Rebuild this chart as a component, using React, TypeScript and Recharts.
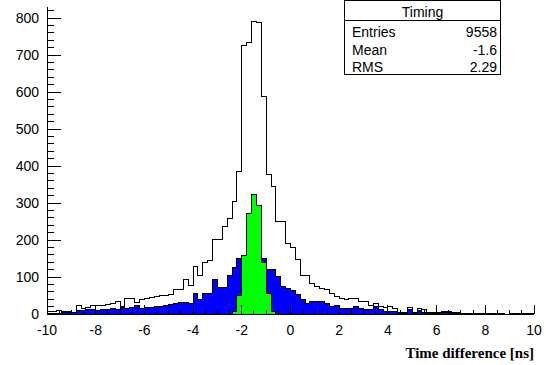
import { Area, ComposedChart, XAxis, YAxis } from 'recharts';

// 100 bins of 0.2 ns from -10 to 10
const BIN_LOW = -10;
const BIN_WIDTH = 0.2;

// all hits (open histogram)
const allCounts = [
  7, 8, 10, 8, 6, 5, 22, 15, 18, 22,
  24, 22, 27, 28, 33, 20, 41, 42, 30, 38,
  42, 44, 47, 49, 51, 52, 65, 65, 94, 78,
  128, 103, 139, 144, 202, 202, 236, 257, 304, 385,
  727, 735, 792, 788, 587, 376, 344, 250, 250, 191,
  180, 146, 105, 105, 83, 74, 70, 65, 56, 47,
  43, 38, 42, 42, 35, 35, 24, 29, 20, 17,
  20, 15, 5, 5, 17, 5, 14, 11, 3, 5,
  3, 6, 6, 5, 4, 2, 2, 1, 2, 1,
  1, 2, 1, 1, 0, 1, 1, 0, 1, 1,
];

// blue filled histogram
const otherCounts = [
  2, 2, 2, 3, 3, 3, 9, 9, 11, 11,
  10, 11, 13, 15, 13, 18, 15, 17, 22, 15,
  18, 18, 20, 20, 24, 27, 29, 31, 31, 29,
  56, 38, 56, 56, 92, 72, 72, 105, 126, 150,
  145, 140, 140, 145, 150, 119, 119, 101, 74, 70,
  64, 52, 40, 28, 33, 33, 33, 29, 20, 24,
  15, 15, 15, 20, 15, 11, 11, 21, 11, 6,
  6, 6, 2, 2, 11, 2, 9, 5, 2, 2,
  2, 3, 3, 2, 1, 1, 0, 1, 0, 0,
  0, 1, 0, 0, 0, 0, 0, 1, 0, 0,
];

// green filled histogram, only bins 38..46 are filled
const PEAK_FIRST_BIN = 38;
const peakCounts = [6, 50, 159, 273, 322, 292, 138, 55, 6];

const xLabels = [-10, -8, -6, -4, -2, 0, 2, 4, 6, 8, 10];
const yLabels = [0, 100, 200, 300, 400, 500, 600, 700, 800];

const statTitle = 'Timing';
const statNames = ['Entries', 'Mean', 'RMS'];
const statValues = ['9558', '-1.6', '2.29'];

const xTicks: number[] = [];
for (let v = -10; v <= 10; v += 0.5) xTicks.push(v);
const yTicks: number[] = [];
for (let v = 0; v <= 820; v += 20) yTicks.push(v);

const data = allCounts.map((v, i) => {
  const p = i - PEAK_FIRST_BIN;
  return {
    x: Math.round((BIN_LOW + i * BIN_WIDTH) * 10) / 10,
    all: v,
    other: otherCounts[i],
    peak: p >= 0 && p < peakCounts.length ? peakCounts[p] : 0,
  };
});
data.push({ x: 10, all: allCounts[99], other: otherCounts[99], peak: 0 });

const FONT = 'Liberation Sans, Arial, Helvetica, sans-serif';

function BottomTick({ x, y, payload }: any) {
  const v = payload.value;
  const major = Math.abs(v % 2) < 1e-9;
  return (
    <g>
      <line x1={x} x2={x} y1={y} y2={y - (major ? 9 : 4)} stroke="#000" />
      {major && xLabels.includes(v) && (
        <text x={x} y={y + 21} textAnchor="middle" fontSize={14} fontFamily={FONT} fill="#000">
          {v}
        </text>
      )}
    </g>
  );
}

function TopTick({ x, y, payload }: any) {
  const major = Math.abs(payload.value % 2) < 1e-9;
  return <line x1={x} x2={x} y1={y} y2={y + (major ? 9 : 4)} stroke="#000" />;
}

function LeftTick({ x, y, payload }: any) {
  const v = payload.value;
  const major = v % 100 === 0;
  return (
    <g>
      <line x1={x} x2={x + (major ? 14 : 7)} y1={y} y2={y} stroke="#000" />
      {major && yLabels.includes(v) && (
        <text x={x - 8} y={y + 5} textAnchor="end" fontSize={14} fontFamily={FONT} fill="#000">
          {v}
        </text>
      )}
    </g>
  );
}

function RightTick({ x, y, payload }: any) {
  const major = payload.value % 100 === 0;
  return <line x1={x} x2={x - (major ? 14 : 7)} y1={y} y2={y} stroke="#000" />;
}

export default function App() {
  return (
    <div style={{ position: 'absolute', left: 0, top: 0, width: 546, height: 365, background: '#fff' }}>
      <style>{'.recharts-surface path, .recharts-surface line { shape-rendering: crispEdges; }'}</style>
      <ComposedChart width={546} height={365} data={data} margin={{ top: 7, right: 12, left: 0, bottom: 0 }}>
        <XAxis
          dataKey="x"
          type="number"
          domain={[-10, 10]}
          ticks={xTicks}
          interval={0}
          height={51}
          tickSize={0}
          tickMargin={0}
          tick={BottomTick}
          tickLine={false}
          axisLine={{ stroke: '#000' }}
          allowDataOverflow
        />
        <XAxis
          xAxisId="top"
          orientation="top"
          type="number"
          domain={[-10, 10]}
          ticks={xTicks}
          interval={0}
          height={0}
          tickSize={0}
          tickMargin={0}
          tick={TopTick}
          tickLine={false}
          axisLine={{ stroke: '#000' }}
          allowDataOverflow
        />
        <YAxis
          type="number"
          domain={[0, 830]}
          ticks={yTicks}
          interval={0}
          width={47}
          tickSize={0}
          tickMargin={0}
          tick={LeftTick}
          tickLine={false}
          axisLine={{ stroke: '#000' }}
          allowDataOverflow
        />
        <YAxis
          yAxisId="right"
          orientation="right"
          type="number"
          domain={[0, 830]}
          ticks={yTicks}
          interval={0}
          width={0}
          tickSize={0}
          tickMargin={0}
          tick={RightTick}
          tickLine={false}
          axisLine={{ stroke: '#000' }}
          allowDataOverflow
        />
        <Area
          type="stepAfter"
          dataKey="all"
          stroke="#000"
          strokeWidth={1}
          fill="none"
          dot={false}
          activeDot={false}
          isAnimationActive={false}
        />
        <Area
          type="stepAfter"
          dataKey="other"
          stroke="#000"
          strokeWidth={1}
          fill="#0000ff"
          fillOpacity={1}
          dot={false}
          activeDot={false}
          isAnimationActive={false}
        />
        <Area
          type="stepAfter"
          dataKey="peak"
          stroke="#000"
          strokeWidth={1}
          fill="#00ff00"
          fillOpacity={1}
          dot={false}
          activeDot={false}
          isAnimationActive={false}
        />
      </ComposedChart>
      <svg width={546} height={365} style={{ position: 'absolute', left: 0, top: 0, pointerEvents: 'none' }}>
        <rect x={344.5} y={0.5} width={156} height={74} fill="#fff" stroke="#000" />
        <line x1={344.5} x2={500.5} y1={20.5} y2={20.5} stroke="#000" />
        <text x={422.5} y={17} textAnchor="middle" fontSize={14} fontFamily={FONT}>
          {statTitle}
        </text>
        {statNames.map((name, i) => (
          <g key={name}>
            <text x={352} y={37 + i * 17.5} fontSize={14} fontFamily={FONT}>
              {name}
            </text>
            <text x={497} y={37 + i * 17.5} textAnchor="end" fontSize={14} fontFamily={FONT}>
              {statValues[i]}
            </text>
          </g>
        ))}
        <text
          x={534}
          y={358}
          textAnchor="end"
          fontSize={15}
          fontWeight="bold"
          fontFamily="Liberation Serif, Times New Roman, serif"
        >
          Time difference [ns]
        </text>
      </svg>
    </div>
  );
}
